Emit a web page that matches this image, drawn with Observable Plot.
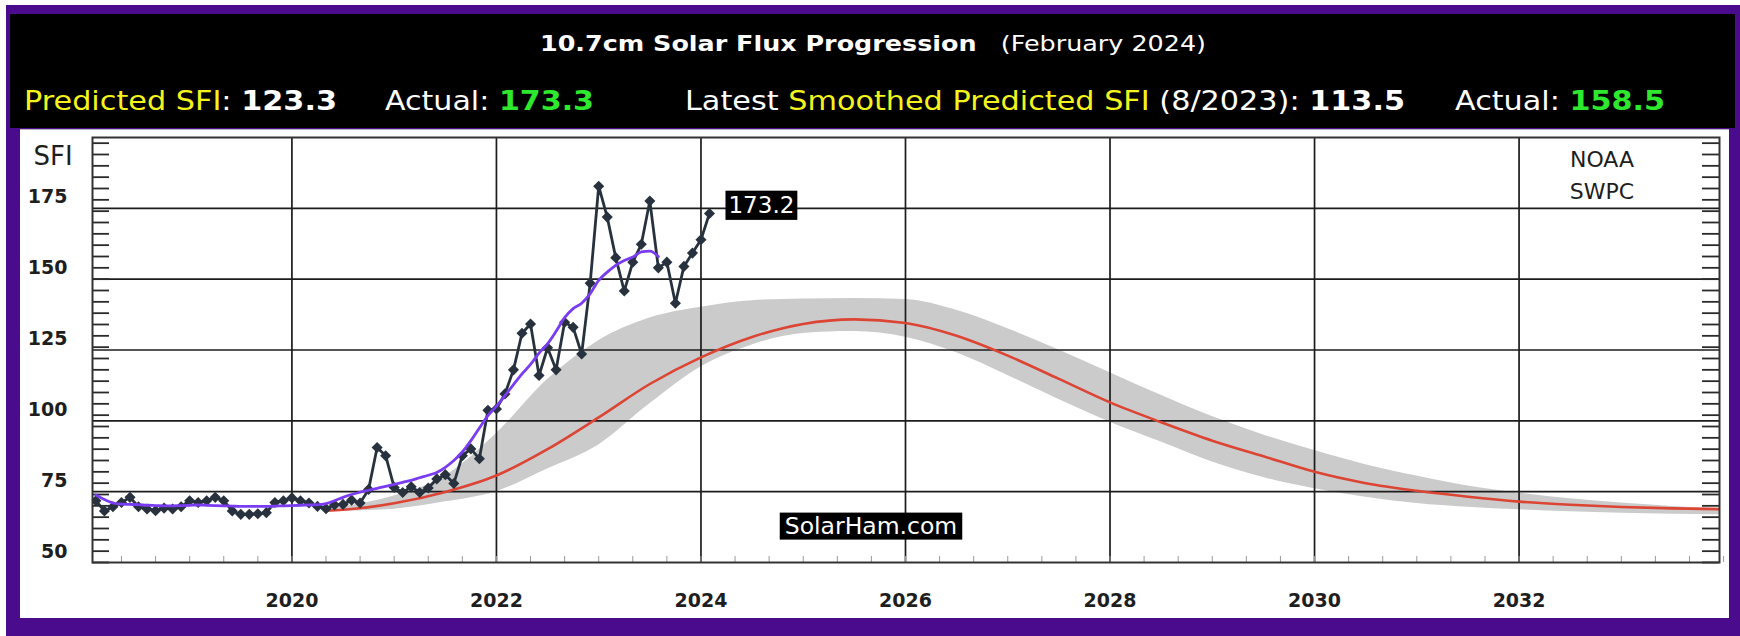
<!DOCTYPE html>
<html>
<head>
<meta charset="utf-8">
<script src="https://cdn.jsdelivr.net/npm/d3@7"></script>
<script src="https://cdn.jsdelivr.net/npm/@observablehq/plot@0.6"></script>
<style>
html, body { margin: 0; padding: 0; background: #fff; }
#page { position: relative; width: 1740px; height: 636px; overflow: hidden; background: #fff; font-family: "DejaVu Sans", sans-serif; }
#border { position: absolute; left: 6px; top: 5px; right: 0; bottom: 0; background: #4a0b8c; }
#header { position: absolute; left: 10px; top: 14px; width: 1725px; height: 114px; background: #000; }
#panel { position: absolute; left: 20px; top: 129px; width: 1709px; height: 489px; background: #fff; border-top: 1px solid #b8b8b8; box-sizing: border-box; }
#panel svg { position: absolute; left: 0; top: 0; }
.seg { position: absolute; white-space: pre; line-height: 1; transform-origin: 0 50%; color: #fff; }
.yl { color: #f4f41c; }
.gr { color: #2ee82e; font-weight: bold; }
.wb { font-weight: bold; }
</style>
</head>
<body>
<div id="page">
  <div id="border"></div>
  <div id="header"></div>
  <div id="panel"></div>
</div>
<script>
// ---------------- data ----------------
const titleText = "10.7cm Solar Flux Progression";
const titleMonth = "(February 2024)";
const predictedSFI = 123.3;
const actualSFI = 173.3;
const smoothedMonth = "8/2023";
const smoothedPredictedSFI = 113.5;
const smoothedActualSFI = 158.5;

// monthly observed 10.7cm flux, starting Feb 2018
const actualStartYear = 2018;
const actualStartMonth = 2;
const actualValues = [
  71.8, 68.2, 69.7, 71.2, 73.0, 69.7, 68.9, 68.3, 69.2, 68.9, 69.7,             // 2018 Feb-Dec
  71.8, 71.2, 71.8, 73.0, 71.8, 68.2, 67.0, 67.0, 67.2, 67.6, 71.2, 71.8,       // 2019
  72.8, 71.8, 71.0, 69.8, 69.0, 70.3, 70.5, 72.0, 71.0, 75.8, 90.6, 87.7,       // 2020
  76.5, 74.7, 76.7, 74.7, 76.3, 79.5, 81.0, 77.9, 87.7, 90.1, 86.6, 103.7,      // 2021
  104.2, 109.5, 118.0, 130.9, 134.2, 116.0, 125.8, 118.0, 134.8, 133.0, 123.6, 148.6, // 2022
  182.8, 171.9, 157.6, 145.8, 156.0, 162.3, 177.6, 154.0, 156.0, 141.5, 154.5, 159.2, // 2023
  163.9, 173.2                                                                  // 2024 Jan-Feb
];

// smoothed observed flux, monthly from Feb 2018 to Aug 2023
const smoothedValues = [
  73.8, 72.2, 71.0, 70.6, 70.5, 70.4, 70.2, 70.1, 70.0, 70.0, 70.1,
  70.2, 70.3, 70.2, 70.1, 70.0, 69.9, 69.8, 69.8, 69.8, 69.8, 69.9, 70.0,
  70.1, 70.2, 70.3, 70.4, 70.8, 71.8, 73.0, 74.0, 74.8, 75.5, 76.2, 76.9,
  77.6, 78.3, 79.0, 79.9, 80.8, 81.8, 83.6, 86.0, 89.0, 93.0, 97.5, 101.8,
  105.2, 108.9, 112.8, 116.6, 119.9, 123.9, 127.2, 131.6, 136.4, 139.6, 141.5, 144.9,
  149.6, 152.5, 154.9, 156.6, 157.8, 159.6, 159.9, 158.0
];

// predicted flux and its uncertainty band
const predYears = [2020.33, 2020.5, 2021.0, 2021.5, 2022.0, 2022.5, 2023.0, 2023.5, 2024.0, 2024.5,
  2025.0, 2025.5, 2026.0, 2026.5, 2027.0, 2027.5, 2028.0, 2028.5, 2029.0, 2029.5,
  2030.0, 2030.5, 2031.0, 2031.5, 2032.0, 2032.5, 2033.0, 2033.5, 2034.0];
const predValues = [68.3, 68.6, 70.9, 74.9, 80.7, 90.0, 101.2, 113.0, 122.4, 129.6,
  134.2, 135.8, 134.5, 130.0, 123.0, 114.8, 106.5, 99.5, 93.0, 87.5,
  82.0, 78.0, 75.3, 73.2, 71.5, 70.4, 69.6, 69.1, 68.8];
const bandLower = [68.0, 68.1, 68.8, 71.4, 75.0, 83.0, 91.5, 106.0, 119.0, 126.8,
  130.8, 131.5, 129.5, 124.0, 116.0, 107.5, 99.5, 92.5, 85.5, 80.0,
  76.0, 73.0, 70.8, 69.5, 68.6, 67.9, 67.4, 67.0, 66.8];
const bandUpper = [68.6, 69.6, 73.5, 80.5, 95.5, 114.6, 128.3, 136.3, 140.1, 142.4,
  143.0, 143.2, 142.8, 139.0, 132.5, 125.0, 117.0, 109.0, 101.5, 95.0,
  89.5, 84.5, 80.5, 77.0, 74.5, 72.5, 71.0, 69.8, 69.0];

const xTickYears = [2020, 2022, 2024, 2026, 2028, 2030, 2032];
const yTickValues = [50, 75, 100, 125, 150, 175];
const yGridValues = [75, 100, 125, 150, 175];

// ---------------- header ----------------
const header = document.getElementById("header");
const segs = [
  {html: `<span class="wb">${titleText}</span>   ${titleMonth}`, l: 530, r: 1196, cy: 30, fs: 21},
  {html: `<span class="yl">Predicted SFI</span>: <span class="wb">${predictedSFI.toFixed(1)}</span>`, l: 14, r: 327, cy: 87, fs: 26},
  {html: `Actual: <span class="gr">${actualSFI.toFixed(1)}</span>`, l: 375, r: 584, cy: 87, fs: 26},
  {html: `Latest <span class="yl">Smoothed Predicted SFI</span> (${smoothedMonth}): <span class="wb">${smoothedPredictedSFI.toFixed(1)}</span>`, l: 675, r: 1395, cy: 87, fs: 26},
  {html: `Actual: <span class="gr">${smoothedActualSFI.toFixed(1)}</span>`, l: 1445, r: 1655, cy: 87, fs: 26}
];
segs.forEach(s => {
  const d = document.createElement("div");
  d.className = "seg";
  d.innerHTML = s.html;
  d.style.fontSize = s.fs + "px";
  d.style.left = s.l + "px";
  d.style.top = (s.cy - 0.5 * s.fs) + "px";
  header.appendChild(d);
  const w = d.getBoundingClientRect().width;
  d.style.transform = `scaleX(${(s.r - s.l) / w})`;
});

// ---------------- chart ----------------
const W = 1709, H = 488;
const mL = 72, mR = 10, mT = 7, mB = 56;
const frameW = W - mL - mR, frameH = H - mT - mB;

const actual = actualValues.map((v, i) => ({x: actualStartYear + (actualStartMonth - 1 + i) / 12, v}));
const smoothed = smoothedValues.map((v, i) => ({x: actualStartYear + (actualStartMonth - 1 + i) / 12, v}));
const pred = predYears.map((x, i) => ({x, v: predValues[i], lo: bandLower[i], hi: bandUpper[i]}));
const last = actual[actual.length - 1];

const yMinor = d3.range(50, 200, 4);
const xMinor = d3.range(2018 + 1 / 3, 2034, 1 / 3);

const dark = "#27323e";
const chart = Plot.plot({
  width: W, height: H,
  marginLeft: mL, marginRight: mR, marginTop: mT, marginBottom: mB,
  x: {domain: [2018.05, 2033.96], label: null},
  y: {domain: [50, 200], label: null},
  style: {fontFamily: "DejaVu Sans, sans-serif", background: "transparent", color: "#1e1e1e", overflow: "visible"},
  marks: [
    Plot.areaY(pred, {x: "x", y1: "lo", y2: "hi", fill: "#cbcbcb", curve: "monotone-x", clip: true}),
    Plot.ruleX(xTickYears, {stroke: "#1c1c1c", strokeWidth: 1.7}),
    Plot.ruleY(yGridValues, {stroke: "#1c1c1c", strokeWidth: 1.7}),
    Plot.tickY(yMinor, {y: d => d, insetRight: frameW - 17, stroke: "#2a2a2a", strokeWidth: 1.8}),
    Plot.tickY(yMinor, {y: d => d, insetLeft: frameW - 17, stroke: "#2a2a2a", strokeWidth: 1.8}),
    Plot.tickX(xMinor, {x: d => d, insetTop: frameH - 6, stroke: "#9a9a9a", strokeWidth: 1}),
    Plot.line(pred, {x: "x", y: "v", stroke: "#dc4434", strokeWidth: 2.6, curve: "monotone-x", clip: true}),
    Plot.line(actual, {x: "x", y: "v", stroke: dark, strokeWidth: 2.8, clip: true}),
    Plot.dot(actual, {x: "x", y: "v", symbol: "diamond2", r: 5, fill: dark, stroke: "none", clip: true}),
    Plot.line(smoothed, {x: "x", y: "v", stroke: "#7a3cf0", strokeWidth: 2.8, curve: "monotone-x", clip: true}),
    Plot.frame({stroke: "#333", strokeWidth: 2}),
    Plot.axisX(xTickYears, {tickSize: 0, tickPadding: 31, fontSize: 19, fontWeight: "bold", tickFormat: d => String(d), label: null}),
    Plot.axisY(yTickValues, {tickSize: 0, tickPadding: 25, dy: -11, fontSize: 19, fontWeight: "bold", label: null}),
    Plot.text(["SFI"], {text: d => d, frameAnchor: "top-left", textAnchor: "middle", lineAnchor: "middle", dx: -39.5, dy: 19, fontSize: 26, fill: "#1e1e1e"}),
    Plot.text(["NOAA\nSWPC"], {text: d => d, frameAnchor: "top-right", textAnchor: "middle", lineAnchor: "middle", dx: -117.5, dy: 35, fontSize: 22, lineHeight: 1.46, fill: "#1e1e1e"}),
    Plot.text([last], {x: "x", y: "v", text: d => d.v.toFixed(1), dx: 19, dy: -7.5, textAnchor: "start", fontSize: 23, fill: "#fff", className: "boxA"}),
    Plot.text(["SolarHam.com"], {text: d => d, frameAnchor: "bottom", dx: -35, dy: -28.4, fontSize: 23.5, fill: "#fff", className: "boxB"})
  ]
});
document.getElementById("panel").appendChild(chart);

function boxify(sel, px, py) {
  chart.querySelectorAll(sel + " text").forEach(t => {
    const b = t.getBBox();
    const r = document.createElementNS("http://www.w3.org/2000/svg", "rect");
    r.setAttribute("x", b.x - px);
    r.setAttribute("y", b.y - py);
    r.setAttribute("width", b.width + 2 * px);
    r.setAttribute("height", b.height + 2 * py);
    r.setAttribute("fill", "#000");
    const tr = t.getAttribute("transform");
    if (tr) r.setAttribute("transform", tr);
    t.parentNode.insertBefore(r, t);
  });
}
boxify(".boxA", 3, 1.6);
boxify(".boxB", 5, -0.5);
</script>
</body>
</html>
